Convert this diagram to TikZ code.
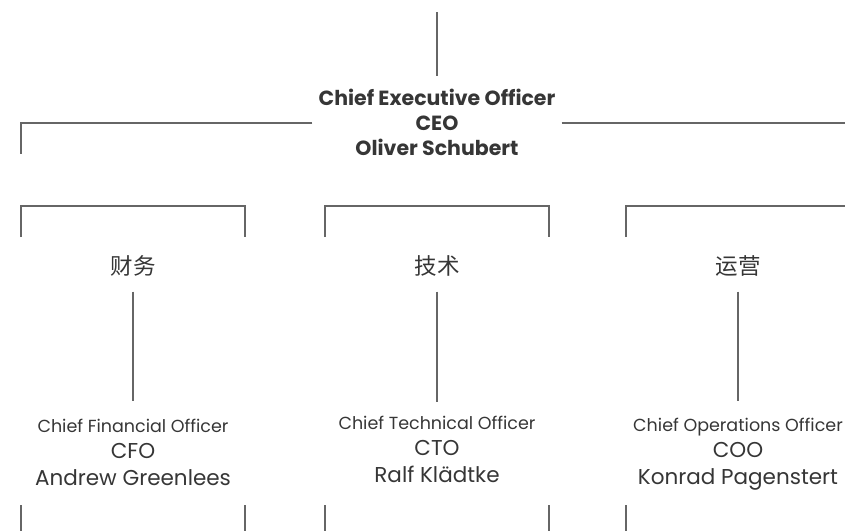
\documentclass[tikz,border=0pt]{standalone}
\usepackage{fontspec}
\setmainfont{Poppins}
\newfontfamily\cjkfont{Noto Sans CJK SC}
\usetikzlibrary{positioning}
\definecolor{linegray}{HTML}{666666}
\definecolor{textgray}{HTML}{363636}
\tikzset{conn/.style = {draw = linegray, line width = 1.2}}
\tikzset{ceobox/.style = {align = center, text = textgray, inner xsep = 6, font = \bfseries\fontsize{20.5}{25}\selectfont}}
\tikzset{deptbox/.style = {text = textgray, inner sep = 3, font = \cjkfont\fontsize{22.5}{24}\selectfont}}
\tikzset{rolebox/.style = {align = center, text = textgray, font = \fontsize{21.5}{26.5}\selectfont}}
\newcommand{\roletitle}[1]{{\fontsize{17.5}{20}\selectfont #1}}

\begin{document}
\begin{tikzpicture}[x = 1pt, y = -1pt]
      \useasboundingbox (0, 0) rectangle (845, 531);
      \clip (0, 0) rectangle (845, 531);

      \node [ceobox] (ceo) at (437, 122) {Chief Executive Officer\\CEO\\Oliver Schubert};
      \coordinate (ceotop) at (437, 12);
      \coordinate (ceoleft) at (21, 154);
      \coordinate (ceoright) at (845, 123);
      \draw [conn, shorten >= 9] (ceotop) -- (ceo.north);
      \draw [conn] (ceo.west |- ceoright) -| (ceoleft);
      \draw [conn] (ceo.east |- ceoright) -- (ceoright);

      \foreach \dept/\x/\lbl in {fin/133/财务, tech/437/技术, ops/738/运营} {
        \draw [conn] (\x - 112, 237) -- (\x - 112, 206) -- (\x + 112, 206) -- (\x + 112, 237);
        \draw [conn] (\x - 112, 505) -- (\x - 112, 531);
        \draw [conn] (\x + 112, 505) -- (\x + 112, 531);
        \node [deptbox] (\dept) at (\x, 266) {\lbl};
      }

      \node [rolebox] (cfo) at (133, 452) {\roletitle{Chief Financial Officer}\\CFO\\Andrew Greenlees};
      \node [rolebox] (cto) at (437, 449) {\roletitle{Chief Technical Officer}\\CTO\\Ralf Klädtke};
      \node [rolebox] (coo) at (738, 454) {\roletitle{Chief Operations Officer}\\COO\\Konrad Pagenstert};

      \draw [conn, shorten <= 12, shorten >= 14] (fin) -- (cfo);
      \draw [conn, shorten <= 12, shorten >= 10] (tech) -- (cto);
      \draw [conn, shorten <= 12, shorten >= 13] (ops) -- (coo);
\end{tikzpicture}
\end{document}
